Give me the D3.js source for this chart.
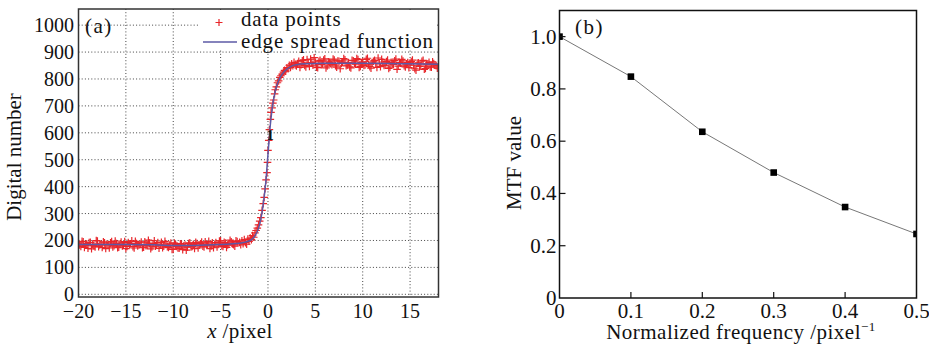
<!DOCTYPE html>
<html>
<head>
<meta charset="utf-8">
<script src="https://cdn.jsdelivr.net/npm/d3@7"></script>
<style>
  body { margin: 0; background: #fff; }
  svg text { font-family: "Liberation Serif", "DejaVu Serif", serif; fill: #111; }
</style>
</head>
<body>
<div id="chart"></div>
<script>
// panel (a): edge spread data
const leftStepX = d3.range(-20, -3.2, 0.25);
const leftY = [190, 178, 195, 182, 171, 193, 186, 176, 198, 183, 174, 191, 187, 172, 196, 181,
  189, 175, 194, 184, 170, 192, 188, 177, 197, 180, 186, 173, 195, 182, 190, 176, 199, 184,
  171, 193, 179, 187, 174, 190, 168, 185, 172, 188, 166, 183, 175, 191, 178, 170, 189, 182,
  194, 176, 186, 197, 180, 173, 192, 185, 199, 178, 190, 183, 201, 187, 179, 196];
const leftStepX2 = d3.range(-19.875, -3.3, 0.25);
const leftY2 = [183, 197, 174, 188, 192, 169, 181, 200, 177, 186, 195, 170, 184, 191, 176, 198,
  173, 187, 180, 196, 178, 185, 199, 172, 189, 183, 194, 175, 181, 201, 169, 188, 179, 192,
  186, 173, 197, 177, 183, 167, 190, 178, 171, 186, 180, 164, 189, 176, 185, 193, 172, 188,
  179, 195, 183, 170, 191, 186, 176, 198, 181, 193, 174, 188, 195, 184, 199];
const edgePoints = [[-3, 193], [-2.875, 184], [-2.75, 199], [-2.625, 188], [-2.5, 203], [-2.375, 192],
  [-2.25, 186], [-2.125, 205], [-2, 197], [-1.875, 209], [-1.75, 203], [-1.625, 218], [-1.5, 212],
  [-1.375, 228], [-1.25, 237], [-1.125, 246], [-1, 258], [-0.875, 272], [-0.75, 285], [-0.625, 312],
  [-0.5, 337], [-0.4, 360], [-0.3, 392], [-0.2, 425], [-0.1, 452], [-0.05, 490], [0, 535], [0.08, 572],
  [0.15, 612], [0.25, 650], [0.32, 676], [0.43, 693], [0.52, 710], [0.6, 722], [0.7, 745], [0.77, 760],
  [0.88, 771], [1, 786], [1.125, 793], [1.25, 806], [1.375, 812], [1.5, 818], [1.625, 826], [1.75, 832],
  [1.875, 829], [2, 842], [2.125, 838], [2.25, 851], [2.375, 843], [2.5, 856], [2.625, 849], [2.75, 862],
  [2.875, 852]];
const rightStepX = d3.range(3, 18.01, 0.25);
const rightY = [848, 866, 853, 871, 845, 860, 874, 851, 863, 842, 869, 856, 875, 848, 862, 853, 870,
  844, 866, 858, 876, 849, 861, 841, 868, 855, 872, 847, 864, 852, 877, 846, 860, 869, 843, 857,
  873, 850, 865, 839, 862, 854, 874, 848, 859, 867, 845, 861, 852, 870, 838, 858, 847, 866, 836,
  855, 862, 844, 857, 849, 853];
const rightStepX2 = d3.range(3.125, 17.9, 0.25);
const rightY2 = [857, 843, 868, 850, 872, 847, 861, 879, 844, 866, 853, 870, 841, 864, 857, 874,
  849, 867, 838, 862, 871, 852, 845, 869, 858, 876, 843, 861, 850, 873, 855, 840, 866, 859,
  878, 846, 863, 852, 870, 844, 857, 868, 836, 861, 873, 849, 856, 842, 865, 851, 833, 860,
  848, 869, 839, 856, 845, 864, 851, 840];
const esfCurve = [[-20, 185], [-15, 185], [-12, 184], [-10, 181], [-8, 181], [-6, 184], [-4, 187],
  [-3, 190], [-2.5, 193], [-2, 198], [-1.75, 203], [-1.5, 211], [-1.25, 225], [-1, 245], [-0.75, 280],
  [-0.5, 335], [-0.25, 410], [0, 520], [0.25, 630], [0.5, 705], [0.75, 752], [1, 782], [1.25, 803],
  [1.5, 818], [2, 837], [2.5, 848], [3, 853], [4, 857], [6, 858], [10, 858], [14, 857], [18, 855]];
const aTicksX = [-20, -15, -10, -5, 0, 5, 10, 15];
const aTicksY = [0, 100, 200, 300, 400, 500, 600, 700, 800, 900, 1000];

// panel (b): MTF
const mtfFreq = [0, 0.1, 0.2, 0.3, 0.4, 0.5];
const mtfValue = [1.0, 0.847, 0.636, 0.480, 0.348, 0.245];
const bTicksX = [0, 0.1, 0.2, 0.3, 0.4, 0.5];
const bTicksY = [0, 0.2, 0.4, 0.6, 0.8, 1.0];

const svg = d3.select('#chart').append('svg')
  .attr('width', 929).attr('height', 344);
svg.append('rect').attr('width', 929).attr('height', 344).attr('fill', '#fff');

// ---------- panel (a) ----------
const ax = d3.scaleLinear().domain([-20, 18]).range([78.5, 438.5]);
const ay = d3.scaleLinear().domain([-10, 1060]).range([297, 9]);

svg.append('clipPath').attr('id', 'clipA').append('rect')
  .attr('x', 78.5).attr('y', 9).attr('width', 360).attr('height', 288);

const gridA = svg.append('g').attr('stroke', '#444').attr('stroke-width', 1)
  .attr('stroke-dasharray', '1,2.2');
gridA.selectAll('.gx').data(aTicksX).enter().append('line')
  .attr('x1', d => ax(d)).attr('x2', d => ax(d)).attr('y1', 9).attr('y2', 297);
gridA.selectAll('.gy').data(aTicksY).enter().append('line')
  .attr('x1', 78.5).attr('x2', 438.5).attr('y1', d => ay(d)).attr('y2', d => ay(d));

const pair = (xs, ys) => xs.map((x, i) => [x, ys[i]]).filter(d => d[1] !== undefined);
const dataA = pair(leftStepX, leftY).concat(pair(leftStepX2, leftY2))
  .concat(edgePoints)
  .concat(pair(rightStepX, rightY)).concat(pair(rightStepX2, rightY2));

const plotA = svg.append('g').attr('clip-path', 'url(#clipA)');
plotA.selectAll('path.pt').data(dataA).enter().append('path')
  .attr('class', 'pt')
  .attr('d', d => {
    const x = ax(d[0]), y = ay(d[1]);
    return `M${x - 3.8},${y}H${x + 3.8}M${x},${y - 3.8}V${y + 3.8}`;
  })
  .attr('stroke', '#e8262a').attr('stroke-width', 1.2).attr('fill', 'none');

plotA.append('path').datum(esfCurve)
  .attr('d', d3.line().x(d => ax(d[0])).y(d => ay(d[1])).curve(d3.curveMonotoneX))
  .attr('fill', 'none').attr('stroke', '#5c5aa6').attr('stroke-width', 1.5);

// stray "1" mark near the edge
svg.append('text').attr('x', ax(0.25)).attr('y', ay(575))
  .attr('text-anchor', 'middle').style('font-size', '14px').style('font-weight', 'bold')
  .text('1');

// legend box
svg.append('rect').attr('x', 199).attr('y', 10).attr('width', 238).attr('height', 40)
  .attr('fill', '#fff');
svg.append('path')
  .attr('d', 'M215.5,22.5H222.5M219,19V26')
  .attr('stroke', '#e8262a').attr('stroke-width', 1.2);
svg.append('text').attr('x', 241).attr('y', 26).style('font-size', '21px')
  .style('letter-spacing', '0.8px').text('data points');
svg.append('line').attr('x1', 203).attr('x2', 237).attr('y1', 42).attr('y2', 42)
  .attr('stroke', '#5c5aa6').attr('stroke-width', 1.5);
svg.append('text').attr('x', 241).attr('y', 47.5).style('font-size', '21px')
  .style('letter-spacing', '0.9px').text('edge spread function');

svg.append('rect').attr('x', 78.5).attr('y', 9).attr('width', 360).attr('height', 288)
  .attr('fill', 'none').attr('stroke', '#333').attr('stroke-width', 1.5);

svg.append('text').attr('x', 85).attr('y', 33).style('font-size', '21px')
  .style('letter-spacing', '1.5px').text('(a)');

svg.selectAll('.atx').data(aTicksX).enter().append('text')
  .attr('x', d => ax(d)).attr('y', 318).attr('text-anchor', 'middle')
  .style('font-size', '20px').text(d => d < 0 ? '\u2212' + Math.abs(d) : d);
svg.selectAll('.aty').data(aTicksY).enter().append('text')
  .attr('x', 74).attr('y', d => ay(d) + 7).attr('text-anchor', 'end')
  .style('font-size', '20px').text(d => d);

const xlabA = svg.append('text').attr('x', 240).attr('y', 338).attr('text-anchor', 'middle')
  .style('font-size', '21px').style('letter-spacing', '0.4px');
xlabA.append('tspan').style('font-style', 'italic').text('x');
xlabA.append('tspan').text(' /pixel');

svg.append('text').attr('transform', 'translate(21,157) rotate(-90)')
  .attr('text-anchor', 'middle').style('font-size', '21px').text('Digital number');

// ---------- panel (b) ----------
const bx = d3.scaleLinear().domain([0, 0.5]).range([559.5, 916.5]);
const by = d3.scaleLinear().domain([0, 1.1]).range([298, 10.5]);

svg.append('clipPath').attr('id', 'clipB').append('rect')
  .attr('x', 559.5).attr('y', 10.5).attr('width', 357).attr('height', 287.5);

const mtfData = mtfFreq.map((f, i) => [f, mtfValue[i]]);
const plotB = svg.append('g').attr('clip-path', 'url(#clipB)');
plotB.append('path').datum(mtfData)
  .attr('d', d3.line().x(d => bx(d[0])).y(d => by(d[1])))
  .attr('fill', 'none').attr('stroke', '#777').attr('stroke-width', 1);
plotB.selectAll('rect.mk').data(mtfData).enter().append('rect')
  .attr('class', 'mk')
  .attr('x', d => bx(d[0]) - 3.3).attr('y', d => by(d[1]) - 3.3)
  .attr('width', 6.6).attr('height', 6.6).attr('fill', '#000');

svg.append('rect').attr('x', 559.5).attr('y', 10.5).attr('width', 357).attr('height', 287.5)
  .attr('fill', 'none').attr('stroke', '#111').attr('stroke-width', 1.5);

// inward ticks
svg.selectAll('.btkx').data(bTicksX.slice(1, -1)).enter().append('line')
  .attr('x1', d => bx(d)).attr('x2', d => bx(d)).attr('y1', 298).attr('y2', 292)
  .attr('stroke', '#111').attr('stroke-width', 1.2);
svg.selectAll('.btky').data(bTicksY.slice(1)).enter().append('line')
  .attr('x1', 559.5).attr('x2', 565.5).attr('y1', d => by(d)).attr('y2', d => by(d))
  .attr('stroke', '#111').attr('stroke-width', 1.2);

svg.append('text').attr('x', 575).attr('y', 34).style('font-size', '21px')
  .style('letter-spacing', '1.5px').text('(b)');

svg.selectAll('.btx').data(bTicksX).enter().append('text')
  .attr('x', d => bx(d)).attr('y', 318).attr('text-anchor', 'middle')
  .style('font-size', '21px').text(d => d === 0 ? '0' : d3.format('.1f')(d));
svg.selectAll('.bty').data(bTicksY).enter().append('text')
  .attr('x', 556.5).attr('y', d => by(d) + 7).attr('text-anchor', 'end')
  .style('font-size', '21px').text(d => d === 0 ? '0' : d3.format('.1f')(d));

const xlabB = svg.append('text').attr('x', 741).attr('y', 339).attr('text-anchor', 'middle')
  .style('font-size', '21px').style('letter-spacing', '0.5px');
xlabB.append('tspan').text('Normalized frequency /pixel');
xlabB.append('tspan').attr('dy', -8).style('font-size', '13px').text('\u22121');

svg.append('text').attr('transform', 'translate(521,163) rotate(-90)')
  .attr('text-anchor', 'middle').style('font-size', '21px').text('MTF value');
</script>
</body>
</html>
